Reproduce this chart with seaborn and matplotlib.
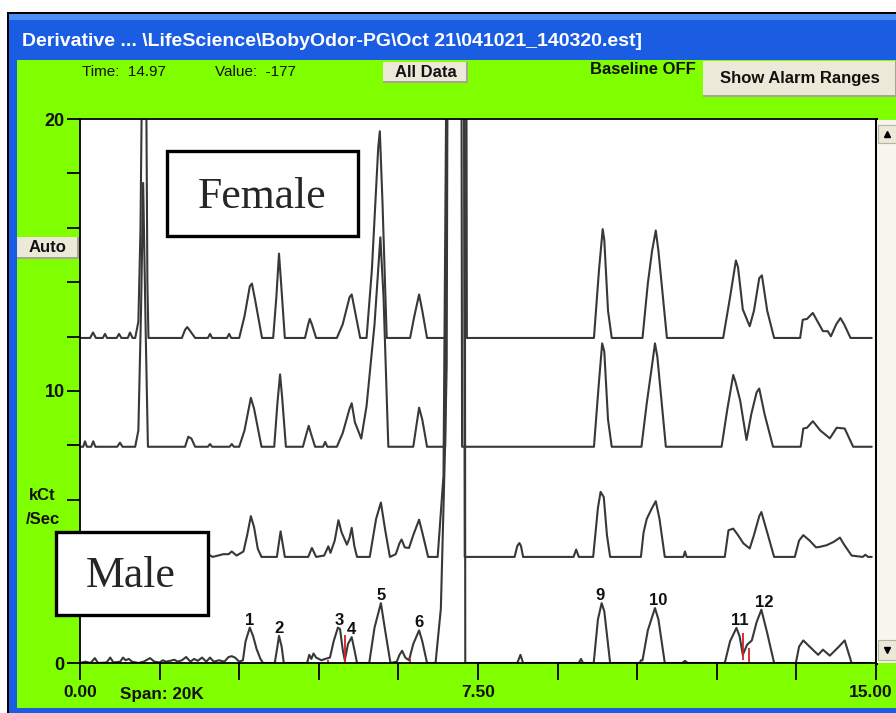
import numpy as np
import matplotlib
matplotlib.use("Agg")
import matplotlib.pyplot as plt
import matplotlib.transforms as mtransforms
from matplotlib.patches import Rectangle
from matplotlib.lines import Line2D
import seaborn as sns

# chromatogram traces: time (min) and signal (kCt/sec) above each baseline
fa_t = [0.00, 0.19, 0.245, 0.30, 0.43, 0.471, 0.51, 0.69, 0.735, 0.78, 0.90, 0.942, 0.99, 1.04, 1.10, 1.14, 1.18, 1.24, 1.27, 1.29,
        1.92, 1.98, 2.02, 2.06, 2.17, 2.41, 2.45, 2.49, 2.77, 2.81, 2.85,
        3.00, 3.10, 3.20, 3.24, 3.30, 3.43, 3.64, 3.70, 3.75, 3.79, 3.86,
        4.24, 4.30, 4.33, 4.37, 4.45, 4.84, 4.95, 5.08, 5.12, 5.20, 5.28, 5.40, 5.50, 5.62, 5.65, 5.70, 5.78,
        6.22, 6.30, 6.39, 6.45, 6.54, 6.88, 6.91, 6.94, 7.27, 7.29,
        9.685, 9.78, 9.85, 9.88, 9.95, 10.02, 10.60, 10.70, 10.78, 10.85, 10.90, 11.06,
        12.12, 12.25, 12.36, 12.40, 12.49, 12.62, 12.70, 12.80, 12.85, 12.95, 13.08,
        13.57, 13.62, 13.70, 13.81, 13.90, 14.00, 14.09, 14.15, 14.25, 14.33, 14.40, 14.52, 14.92]
fa_v = [0, 0, 0.2, 0, 0, 0.15, 0, 0, 0.15, 0, 0, 0.2, 0, 0, 0.6, 4.0, 12.0, 12.0, 2.0, 0,
        0, 0.3, 0.4, 0.3, 0, 0, 0.15, 0, 0, 0.15, 0,
        0, 0.8, 1.9, 2.0, 1.4, 0, 0, 1.5, 3.1, 2.0, 0,
        0, 0.5, 0.7, 0.5, 0, 0, 0.5, 1.5, 1.6, 0.8, 0, 0, 2.5, 7.0, 7.6, 5.0, 0,
        0, 0.8, 1.6, 1.0, 0, 0, 3.0, 25, 25, 0,
        0, 2.5, 4.0, 3.6, 1.0, 0, 0, 2.0, 3.2, 3.95, 3.2, 0,
        0, 1.5, 2.85, 2.6, 1.05, 0.43, 1.0, 2.2, 2.3, 1.0, 0,
        0, 0.67, 0.7, 0.92, 0.6, 0.25, 0.25, 0.06, 0.5, 0.73, 0.5, 0, 0]

fb_t = [0.00, 0.06, 0.094, 0.13, 0.21, 0.25, 0.29, 0.70, 0.754, 0.80,
        1.04, 1.10, 1.15, 1.19, 1.24, 1.28,
        1.98, 2.04, 2.10, 2.17, 2.41, 2.45, 2.49, 2.82, 2.86, 2.90,
        3.00, 3.10, 3.22, 3.28, 3.42, 3.66, 3.72, 3.77, 3.81, 3.88,
        4.20, 4.27, 4.31, 4.35, 4.43, 4.58, 4.62, 4.66, 4.84, 4.95, 5.08, 5.12, 5.18, 5.30, 5.40, 5.55, 5.66, 5.72, 5.81,
        6.28, 6.39, 6.45, 6.54, 6.88, 6.91, 6.94, 7.18, 7.20,
        9.685, 9.78, 9.84, 9.88, 9.95, 10.02, 10.58, 10.68, 10.78, 10.835, 10.88, 11.04,
        12.09, 12.20, 12.31, 12.35, 12.44, 12.56, 12.65, 12.75, 12.80, 12.90, 13.06,
        13.58, 13.63, 13.70, 13.81, 13.95, 14.13, 14.26, 14.41, 14.57, 14.92]
fb_v = [0, 0, 0.2, 0, 0, 0.2, 0, 0, 0.15, 0,
        0, 0.6, 5.0, 9.7, 4.0, 0,
        0, 0.37, 0.3, 0, 0, 0.1, 0, 0, 0.1, 0,
        0, 0.6, 1.8, 1.4, 0, 0, 1.6, 2.66, 1.8, 0,
        0, 0.5, 0.77, 0.5, 0, 0, 0.18, 0, 0, 0.5, 1.4, 1.6, 0.9, 0.3, 1.5, 4.5, 7.7, 5.5, 0,
        0, 1.44, 1.0, 0, 0, 3.0, 25, 25, 0,
        0, 2.4, 3.8, 3.5, 1.0, 0, 0, 1.6, 3.0, 3.8, 3.3, 0,
        0, 1.4, 2.64, 2.4, 1.7, 0.25, 1.2, 2.0, 2.14, 1.2, 0,
        0, 0.67, 0.7, 0.94, 0.6, 0.31, 0.7, 0.67, 0, 0]

ma_t = [0.00, 0.50, 0.60, 0.70, 1.40, 1.50, 1.60, 2.00, 2.10, 2.41, 2.50, 2.60, 2.70, 2.80, 2.86, 2.95, 3.08, 3.15, 3.22, 3.28, 3.35, 3.42, 3.71, 3.78, 3.86,
        4.30, 4.37, 4.45, 4.60, 4.68, 4.72, 4.80, 4.87, 4.93, 5.03, 5.08, 5.12, 5.17, 5.22, 5.46, 5.58, 5.67, 5.75, 5.84,
        5.95, 6.02, 6.06, 6.12, 6.20, 6.28, 6.39, 6.45, 6.56, 6.74, 6.85, 6.93, 7.23, 7.25,
        8.19, 8.24, 8.28, 8.31, 8.35, 9.30, 9.35, 9.40,
        9.67, 9.76, 9.81, 9.87, 9.93, 9.99, 10.57, 10.62, 10.68, 10.78, 10.85, 10.92, 11.02, 11.37, 11.40, 11.43,
        12.15, 12.22, 12.31, 12.40, 12.50, 12.62, 12.70, 12.80, 12.84, 12.95, 13.08,
        13.47, 13.55, 13.63, 13.75, 13.87, 13.94, 14.07, 14.20, 14.32, 14.40, 14.54, 14.75, 14.80, 14.85, 14.92]
ma_v = [0, 0, 0.3, 0, 0, 0.25, 0, 0, 0.15, 0.1, 0, 0.05, 0.1, 0.1, 0.2, 0.05, 0.2, 0.8, 1.5, 1.1, 0.3, 0, 0, 0.94, 0,
        0, 0.33, 0, 0.05, 0.39, 0.15, 0.6, 1.35, 0.9, 0.45, 0.7, 1.07, 0.4, 0, 0, 1.4, 2.0, 1.0, 0,
        0.1, 0.5, 0.64, 0.35, 0.33, 0.8, 1.37, 0.9, 0, 0, 3.0, 25, 25, 0,
        0, 0.4, 0.51, 0.4, 0, 0, 0.27, 0,
        0, 1.8, 2.39, 2.2, 0.8, 0, 0, 0.9, 1.4, 1.8, 2.05, 1.4, 0, 0, 0.2, 0,
        0, 0.98, 1.04, 0.8, 0.5, 0.31, 0.8, 1.5, 1.65, 0.9, 0,
        0, 0.6, 0.8, 0.6, 0.35, 0.37, 0.43, 0.55, 0.71, 0.45, 0.05, 0, 0.08, 0, 0]

mb_t = [0.00, 0.10, 0.20, 0.28, 0.34, 0.50, 0.57, 0.63, 0.76, 0.81, 0.86, 0.92, 0.98, 1.10, 1.20, 1.32, 1.40, 1.50, 1.56, 1.62,
        1.70, 1.78, 1.84, 1.92, 2.00, 2.08, 2.15, 2.22, 2.30, 2.38, 2.45, 2.52, 2.62, 2.72, 2.80, 2.86, 2.92, 3.00, 3.07,
        3.12, 3.20, 3.26, 3.33, 3.40, 3.45, 3.67, 3.72, 3.75, 3.80, 3.84,
        4.28, 4.32, 4.36, 4.40, 4.45, 4.55, 4.62, 4.71, 4.78, 4.86, 4.90, 4.95, 4.99, 5.05, 5.12, 5.18, 5.22,
        5.45, 5.55, 5.67, 5.75, 5.85, 5.97, 6.02, 6.07, 6.13, 6.20, 6.28, 6.39, 6.45, 6.54,
        6.70, 6.80, 6.88, 6.92, 7.25, 7.26,
        8.24, 8.30, 8.35, 9.40, 9.44, 9.48,
        9.68, 9.76, 9.83, 9.88, 9.99, 10.55, 10.57, 10.60, 10.70, 10.835, 10.90, 11.02, 11.35, 11.40, 11.45,
        12.15, 12.25, 12.37, 12.43, 12.49, 12.57, 12.66, 12.75, 12.84, 12.95, 13.08,
        13.49, 13.55, 13.63, 13.75, 13.91, 14.00, 14.13, 14.30, 14.41, 14.54, 14.92]
mb_v = [0, 0.05, 0, 0.18, 0, 0.02, 0.2, 0.02, 0.05, 0.2, 0.1, 0.15, 0.05, 0, 0.05, 0.18, 0.05, 0.02, 0.1, 0.05,
        0.08, 0.12, 0.05, 0.1, 0.22, 0.05, 0.15, 0.08, 0.2, 0.05, 0.2, 0.05, 0.1, 0.05, 0.22, 0.25, 0.2, 0.05, 0.1,
        0.8, 1.3, 1.0, 0.5, 0.15, 0, 0, 0.6, 1.0, 0.6, 0,
        0, 0.3, 0.15, 0.35, 0.2, 0.1, 0.15, 0.2, 0.8, 1.3, 1.25, 0.5, 0.1, 0.7, 0.95, 0.4, 0,
        0, 1.3, 2.2, 1.2, 0, 0.05, 0.3, 0.45, 0.2, 0.1, 0.7, 1.2, 0.8, 0,
        0, 2.0, 8.0, 25, 25, 0,
        0, 0.3, 0, 0, 0.15, 0,
        0, 1.6, 2.2, 1.9, 0, 0, 0.1, 0.1, 1.2, 2.02, 1.6, 0, 0, 0.08, 0,
        0, 0.8, 1.29, 0.98, 0.3, 0.67, 0.83, 1.5, 1.96, 1.1, 0,
        0, 0.6, 0.83, 0.6, 0.3, 0.49, 0.27, 0.6, 0.83, 0, 0]

traces = [(fa_t, fa_v), (fb_t, fb_v), (ma_t, ma_v), (mb_t, mb_v)]
offsets = [11.95, 7.95, 3.9, 0.0]

# numbered peaks on the bottom (male) trace
peak_labels = ['1', '2', '3', '4', '5', '6', '9', '10', '11', '12']
peak_t = [3.20, 3.75, 4.88, 5.12, 5.67, 6.39, 9.80, 10.89, 12.43, 12.90]
peak_h = [1.3, 1.0, 1.3, 0.95, 2.2, 1.2, 2.2, 2.02, 1.29, 1.96]

# red integration markers
red_t = [4.99, 12.49, 12.61, 4.68, 6.22]
red_lo = [0.0, 0.1, 0.0, 0.0, 0.0]
red_hi = [1.03, 1.1, 0.55, 0.12, 0.15]

x_ticks = np.arange(0, 15.01, 1.5)
x_ticklabels = ['0.00', '', '', '', '', '7.50', '', '', '', '', '15.00']
y_ticks = np.arange(0, 21, 2)
y_ticklabels = ['0', '', '', '', '', '10', '', '', '', '', '20']

title = "Derivative ... \\LifeScience\\BobyOdor-PG\\Oct 21\\041021_140320.est]"

sns.set_theme(style="white")
plt.rcParams['font.family'] = ['Liberation Sans', 'DejaVu Sans']

W, H = 896, 713
fig = plt.figure(figsize=(W / 100, H / 100), dpi=100)
fig.patch.set_facecolor('white')


def px_box(x0, y0, x1, y1, **kw):
    r = Rectangle((x0 / W, 1 - y1 / H), (x1 - x0) / W, (y1 - y0) / H,
                  transform=fig.transFigure, **kw)
    fig.add_artist(r)
    return r


def px_text(x, y, s, **kw):
    return fig.text(x / W, 1 - y / H, s, **kw)


def button(x0, y0, x1, y1, label):
    px_box(x0, y0, x1, y1, facecolor='#ECE9D8', lw=0, zorder=1)
    px_box(x0, y1 - 2, x1, y1, facecolor='#A8A493', lw=0, zorder=1)
    px_box(x1 - 2, y0, x1, y1, facecolor='#A8A493', lw=0, zorder=1)
    px_text((x0 + x1) / 2, (y0 + y1) / 2, label, ha='center', va='center',
            fontsize=12, fontweight='bold', color='#111111', zorder=2)


# window frame
px_box(7, 12, 897, 714, facecolor='black', lw=0, zorder=-3)
px_box(9, 14, 897, 714, facecolor='#1A5CE2', lw=0, zorder=-3)
px_box(9, 14, 897, 20, facecolor='#4C8DF6', lw=0, zorder=-3)
px_box(17, 60, 897, 708, facecolor='#80FF00', lw=0, zorder=-3)
px_text(22, 42, title, color='white', fontsize=14, fontweight='bold', ha='left', va='center')

# toolbar
px_text(82, 72, 'Time:  14.97', fontsize=11, ha='left', va='center', color='#111111')
px_text(215, 72, 'Value:  -177', fontsize=11, ha='left', va='center', color='#111111')
button(383, 62, 468, 83, 'All Data')
px_text(590, 69, 'Baseline OFF', fontsize=12, fontweight='bold', ha='left', va='center', color='#111111')
button(703, 61, 897, 97, 'Show Alarm Ranges')
button(17, 237, 79, 259, 'Auto')
px_text(42, 495, 'kCt', fontsize=12, fontweight='bold', ha='center', va='center', color='#111111')
px_text(43, 519, '/Sec', fontsize=12, fontweight='bold', ha='center', va='center', color='#111111')
px_text(120, 695, 'Span: 20K', fontsize=12.3, fontweight='bold', ha='left', va='center', color='#111111')

# plot area
ax = fig.add_axes([80 / W, 1 - 663 / H, 796 / W, 544 / H])
ax.set_facecolor('white')
for (t, v), off in zip(traces, offsets):
    sns.lineplot(x=t, y=np.array(v) + off, ax=ax, color='#383838', linewidth=1.5,
                 sort=False, estimator=None, legend=False)

ax.vlines(red_t, red_lo, red_hi, colors='#D42020', linewidth=1.3)

for s, t, h in zip(peak_labels, peak_t, peak_h):
    ax.annotate(s, (t, h), xytext=(0, 5.5), textcoords='offset points', ha='center', va='center',
                fontsize=12, fontweight='bold', color='#111111')

ax.set_xlim(0, 15)
ax.set_ylim(0, 20)
ax.set_xticks(x_ticks)
ax.set_xticklabels(x_ticklabels)
ax.set_yticks(y_ticks)
ax.set_yticklabels(y_ticklabels)
ax.set_xlabel('')
ax.set_ylabel('')
ax.tick_params(bottom=True, left=True, direction='out', color='black', width=1.3)
ax.tick_params(axis='x', length=12, pad=4, labelsize=12.5, labelcolor='#111111')
ax.tick_params(axis='y', length=9.5, pad=1.5, labelsize=13, labelcolor='#111111')
for lbl in ax.get_xticklabels() + ax.get_yticklabels():
    lbl.set_fontweight('bold')
# the last label sits at the window edge; nudge it inside
last = ax.get_xticklabels()[-1]
last.set_transform(last.get_transform() + mtransforms.ScaledTranslation(-5 / 100, 0, fig.dpi_scale_trans))
for side, sp in ax.spines.items():
    sp.set_visible(True)
    sp.set_color('black')
    sp.set_linewidth(2.2 if side == 'right' else 1.3)

# scroll bar
px_box(877, 120, 897, 663, facecolor='#F6F5EE', lw=0, zorder=1)
px_box(878, 125, 897, 143, facecolor='#ECE9D8', edgecolor='#B8B4A2', lw=0.8, zorder=1)
px_box(878, 640, 897, 660, facecolor='#ECE9D8', edgecolor='#B8B4A2', lw=0.8, zorder=1)
fig.add_artist(Line2D([887 / W], [1 - 134 / H], marker='^', markersize=4, color='black',
                      transform=fig.transFigure, zorder=2))
fig.add_artist(Line2D([887 / W], [1 - 650 / H], marker='v', markersize=4, color='black',
                      transform=fig.transFigure, zorder=2))

# sample labels
px_box(167, 151, 358, 236, facecolor='white', edgecolor='black', lw=2.4, zorder=3)
px_text(262, 208, 'Female', family='Liberation Serif', fontsize=31.5, ha='center', va='baseline', zorder=4)
px_box(56, 532, 208, 615, facecolor='white', edgecolor='black', lw=2.4, zorder=3)
px_text(131, 587, 'Male', family='Liberation Serif', fontsize=31.5, ha='center', va='baseline', zorder=4)

fig.savefig('out.png', dpi=100)
